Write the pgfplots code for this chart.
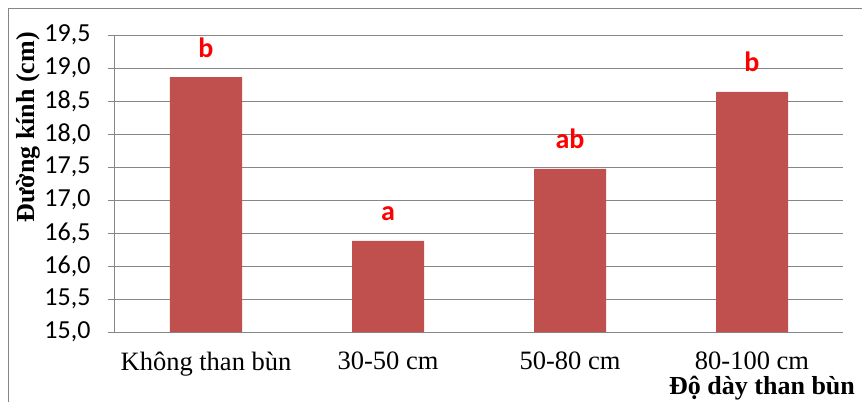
\documentclass[border=0pt]{standalone}
\usepackage{fontspec}
\setmainfont{Liberation Serif}
\newfontfamily\calibri{Carlito}
\usepackage{pgfplots}
\pgfplotsset{compat=1.18}
\definecolor{barred}{HTML}{C0504D}
\definecolor{gridgray}{HTML}{868686}
\begin{document}
\begin{tikzpicture}[x=1pt,y=1pt]
\useasboundingbox (0,0) rectangle (862,402);
\draw[gridgray, line width=1pt] (8,0) -- (8,393) -- (862,393);
\begin{axis}[
  at={(115pt,70pt)}, anchor=south west,
  width=728pt, height=297pt, scale only axis,
  xmin=-0.5, xmax=3.5, ymin=15, ymax=19.5,
  ytick={15,15.5,...,19.5},
  xtick={0,1,2,3},
  xticklabels={Không than bùn, 30-50 cm, 50-80 cm, 80-100 cm},
  minor xtick={-0.5,0.5,1.5,2.5,3.5},
  major tick length=7pt, minor tick length=8pt,
  tick align=outside,
  xtick style={draw=none},
  minor x tick style={gridgray, line width=1pt},
  y tick style={gridgray, line width=1pt},
  axis x line*=bottom, axis y line*=left,
  axis line style={gridgray, line width=1pt, -},
  ymajorgrids, grid style={gridgray, line width=1pt},
  /pgf/number format/.cd, use comma, fixed, fixed zerofill, precision=1, assume math mode=true,
  /pgfplots/.cd,
  yticklabel style={font=\calibri\fontsize{26}{30}\selectfont, xshift=-14pt},
  xticklabel style={font=\fontsize{26.5}{30}\selectfont, inner sep=0pt, yshift=-13pt},
  ylabel={\bfseries Đường kính (cm)},
  every axis y label/.style={at={(axis description cs:-0.1195,0.689)}, rotate=90, anchor=center, font=\fontsize{26}{30}\selectfont},
  xlabel={\bfseries Độ dày than bùn},
  every axis x label/.style={at={(axis description cs:0.761,0)}, anchor=base west, inner sep=0pt, yshift=-62pt, font=\fontsize{26}{30}\selectfont},
  nodes near coords,
  point meta=explicit symbolic,
  every node near coord/.style={anchor=base, yshift=20pt, font=\calibri\bfseries\fontsize{28}{30}\selectfont, text=red},
  clip=false,
]
\addplot[ybar, bar width=72pt, fill=barred, draw=none] coordinates {
  (0,18.86) [b]
  (1,16.38) [a]
  (2,17.47) [ab]
  (3,18.64) [b]
};
\end{axis}
\end{tikzpicture}
\end{document}
